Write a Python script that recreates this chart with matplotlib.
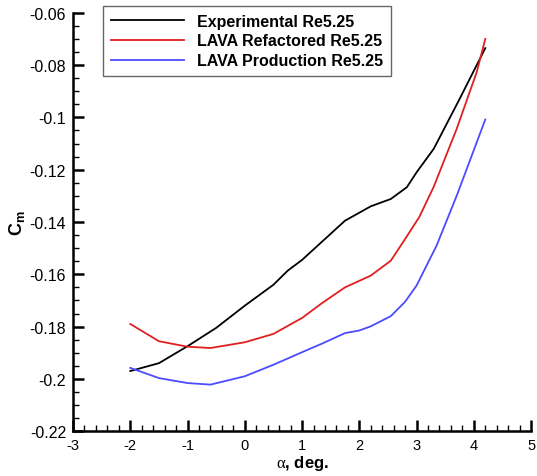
import numpy as np
import matplotlib
matplotlib.use("Agg")
import matplotlib.pyplot as plt
from matplotlib.ticker import MultipleLocator

plt.rcParams['font.family'] = ['Liberation Sans', 'DejaVu Sans']
plt.rcParams['axes.unicode_minus'] = False
plt.rcParams['mathtext.fontset'] = 'custom'
plt.rcParams['mathtext.rm'] = 'Liberation Serif'
plt.rcParams['mathtext.bf'] = 'Liberation Sans:bold'
plt.rcParams['mathtext.it'] = 'Liberation Sans:italic'

# experimental
a_exp = [-2, -1.5, -1, -0.5, 0, 0.5, 0.75, 1.0, 1.35, 1.75, 2.2, 2.55, 2.83, 3.0, 3.3, 3.75, 4.2]
cm_exp = [-0.197, -0.194, -0.1875, -0.1805, -0.172, -0.164, -0.1586, -0.1545, -0.1475,
          -0.1395, -0.134, -0.1312, -0.1267, -0.121, -0.112, -0.093, -0.0735]

# LAVA refactored
a_ref = [-2, -1.5, -1, -0.6, 0, 0.5, 1, 1.35, 1.75, 2.2, 2.55, 2.8, 3.05, 3.3, 3.7, 4.05, 4.2]
cm_ref = [-0.179, -0.1856, -0.1877, -0.1882, -0.186, -0.1828, -0.1767, -0.171, -0.165,
          -0.1605, -0.1548, -0.1465, -0.138, -0.1265, -0.1044, -0.0827, -0.070]

# LAVA production
a_prod = [-2, -1.5, -1, -0.6, 0, 0.5, 1, 1.35, 1.75, 2.0, 2.2, 2.55, 2.8, 3.0, 3.35, 3.7, 4.2]
cm_prod = [-0.1958, -0.1997, -0.2016, -0.2022, -0.199, -0.1946, -0.1898, -0.1865, -0.1825,
           -0.1815, -0.1799, -0.176, -0.1705, -0.1643, -0.149, -0.13, -0.1008]

labels = ['Experimental Re5.25', 'LAVA Refactored Re5.25', 'LAVA Production Re5.25']

fig = plt.figure(figsize=(5.37, 4.77), dpi=100)
ax = fig.add_axes([0.136, 0.094, 0.853, 0.877])

ax.plot(a_exp, cm_exp, color='black', lw=1.3, label=labels[0])
ax.plot(a_ref, cm_ref, color='#e02020', lw=1.3, label=labels[1])
ax.plot(a_prod, cm_prod, color='#4b4bff', lw=1.3, label=labels[2])

ax.set_xlim(-3, 5)
ax.set_ylim(-0.22, -0.06)
ax.xaxis.set_major_locator(MultipleLocator(1))
ax.xaxis.set_minor_locator(MultipleLocator(0.2))
ax.yaxis.set_major_locator(MultipleLocator(0.02))
ax.yaxis.set_minor_locator(MultipleLocator(0.005))
ax.yaxis.set_major_formatter(plt.FuncFormatter(lambda v, p: ('%g' % round(v, 3))))

for s in ['top', 'right']:
    ax.spines[s].set_visible(False)
for s in ['left', 'bottom']:
    ax.spines[s].set_linewidth(1.8)
ax.tick_params(which='major', direction='in', length=8, width=1.8)
ax.tick_params(which='minor', direction='in', length=4, width=1.0)
ax.tick_params(axis='y', pad=5, labelsize=11.5)
ax.tick_params(axis='x', pad=5, labelsize=10.5)

ax.set_xlabel(r'$\mathrm{\alpha}$' + ', deg.', fontsize=12, fontweight='bold', labelpad=1)
ax.set_ylabel(r'$\mathbf{C_m}$', fontsize=13, labelpad=2)

leg = ax.legend(loc='upper left', bbox_to_anchor=(0.065, 1.017), borderaxespad=0,
                fancybox=False, edgecolor='#666666', framealpha=1,
                prop={'weight': 'bold', 'size': 11.5},
                handlelength=4.6, borderpad=0.5, labelspacing=0.3, handletextpad=0.8)
leg.get_frame().set_linewidth(1.0)

fig.savefig('out.png', dpi=100)
